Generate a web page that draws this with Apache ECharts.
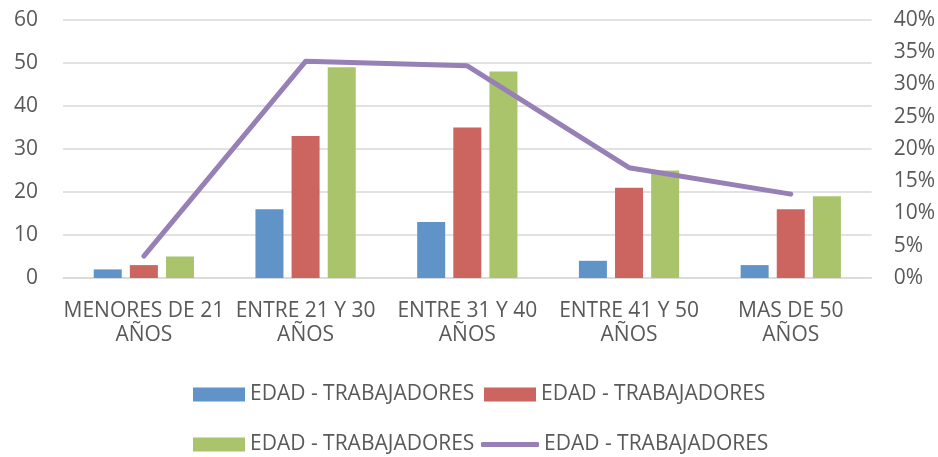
<!DOCTYPE html>
<html>
<head>
<meta charset="utf-8">
<script src="https://cdn.jsdelivr.net/npm/echarts@6/dist/echarts.min.js"></script>
<style>
  html, body { margin: 0; padding: 0; background: #fff; }
  #main { width: 938px; height: 457px; }
</style>
</head>
<body>
<div id="main"></div>
<script>
// datos
const categorias = ["MENORES DE 21\nAÑOS", "ENTRE 21 Y 30\nAÑOS", "ENTRE 31 Y 40\nAÑOS", "ENTRE 41 Y 50\nAÑOS", "MAS DE 50\nAÑOS"];
const serie1 = [2, 16, 13, 4, 3];
const serie2 = [3, 33, 35, 21, 16];
const serie3 = [5, 49, 48, 25, 19];
const porcentaje = [3.4, 33.6, 32.9, 17.1, 13.0];
const nombre = "EDAD - TRABAJADORES";

const fuente = "'Open Sans', Lato, sans-serif";
const gris = "#595959";

// una leyenda por serie para colocarlas como en el original (2 filas)
function leyenda(serie, left, top, w, h, icono) {
  return {
    left: left, top: top, padding: 0, itemWidth: w, itemHeight: h, itemGap: 0,
    textStyle: { color: gris, fontSize: 21, fontFamily: fuente },
    data: [{ name: serie, icon: icono }],
    formatter: function () { return nombre; },
  };
}

const myChart = echarts.init(document.getElementById("main"));
myChart.setOption({
  animation: false,
  textStyle: { fontFamily: fuente },
  grid: { left: 63, right: 65, top: 20, bottom: 179 },
  legend: [
    leyenda("s1", 193, 384, 52, 14, "rect"),
    leyenda("s2", 484, 384, 52, 14, "rect"),
    leyenda("s3", 193, 434, 52, 14, "rect"),
    leyenda("s4", 481, 434, 58, 5, "roundRect"),
  ],
  xAxis: {
    type: "category",
    data: categorias,
    axisTick: { show: false },
    axisLine: { lineStyle: { color: "#D9D9D9", width: 1.5 } },
    axisLabel: { color: gris, fontSize: 21, lineHeight: 24, margin: 21, interval: 0 },
  },
  yAxis: [
    {
      type: "value", min: 0, max: 60, interval: 10,
      axisLine: { show: false }, axisTick: { show: false },
      splitLine: { lineStyle: { color: "#D9D9D9", width: 1.5 } },
      axisLabel: { color: gris, fontSize: 21, margin: 25 },
    },
    {
      type: "value", min: 0, max: 40, interval: 5,
      axisLine: { show: false }, axisTick: { show: false },
      splitLine: { show: false },
      axisLabel: { color: gris, fontSize: 21, margin: 22, formatter: "{value}%" },
    },
  ],
  series: [
    { name: "s1", type: "bar", data: serie1, itemStyle: { color: "#6094C8" }, barGap: "29%", barCategoryGap: "38%" },
    { name: "s2", type: "bar", data: serie2, itemStyle: { color: "#CC6560" } },
    { name: "s3", type: "bar", data: serie3, itemStyle: { color: "#AAC46C" } },
    {
      name: "s4", type: "line", yAxisIndex: 1, data: porcentaje,
      symbol: "none",
      itemStyle: { color: "#9680B6" },
      lineStyle: { color: "#9680B6", width: 5, cap: "round", join: "round" },
    },
  ],
});

window.addEventListener("resize", function () {
  myChart.resize();
});
</script>
</body>
</html>
